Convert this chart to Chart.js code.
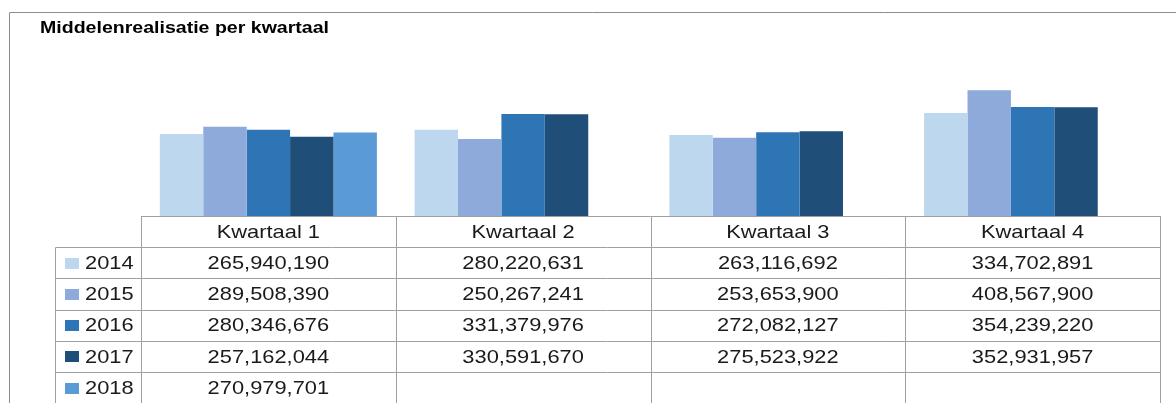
<!DOCTYPE html>
<html>
<head>
<meta charset="utf-8">
<script src="https://cdn.jsdelivr.net/npm/chart.js@4/dist/chart.umd.min.js"></script>
<style>
html,body{margin:0;padding:0;background:#fff;}
#wrap{width:1176px;height:403px;position:relative;}
</style>
</head>
<body>
<div id="wrap"><canvas id="c" width="1176" height="403"></canvas></div>
<script>
const titleText = 'Middelenrealisatie per kwartaal';
const categories = ['Kwartaal 1', 'Kwartaal 2', 'Kwartaal 3', 'Kwartaal 4'];
const years = ['2014', '2015', '2016', '2017', '2018'];
const values2014 = [265940190, 280220631, 263116692, 334702891];
const values2015 = [289508390, 250267241, 253653900, 408567900];
const values2016 = [280346676, 331379976, 272082127, 354239220];
const values2017 = [257162044, 330591670, 275523922, 352931957];
const values2018 = [270979701, null, null, null];
const colors = ['#BDD7EE', '#8EAADB', '#2E75B6', '#1F4E79', '#5B9BD5'];
const seriesValues = [values2014, values2015, values2016, values2017, values2018];

const SX = 1.15; // horizontal text stretch seen in reference
const FONT = '"Liberation Sans", Arial, sans-serif';

function drawText(ctx, text, x, y, align) {
  ctx.save();
  ctx.translate(x, y);
  ctx.scale(SX, 1);
  ctx.textAlign = align;
  ctx.fillText(text, 0, 0);
  ctx.restore();
}

const tablePlugin = {
  id: 'tablePlugin',
  afterDraw(chart) {
    const ctx = chart.ctx;
    const area = chart.chartArea;
    const xs = chart.scales.x;
    const n = categories.length;
    const colW = (area.right - area.left) / n;
    const rowH = 31.2;
    const top = area.bottom;
    const legendLeft = 55.5;
    ctx.save();
    // outer frame
    ctx.strokeStyle = '#8c8c8c';
    ctx.lineWidth = 1;
    ctx.beginPath();
    ctx.moveTo(9.5, 403);
    ctx.lineTo(9.5, 12.5);
    ctx.lineTo(1176, 12.5);
    ctx.stroke();
    // title
    ctx.fillStyle = '#000';
    ctx.font = 'bold 17px ' + FONT;
    ctx.textBaseline = 'alphabetic';
    drawText(ctx, titleText, 40, 33, 'left');

    // grid
    ctx.strokeStyle = '#a0a0a0';
    ctx.beginPath();
    const nRows = years.length + 1;
    const bottom = top + rowH * nRows;
    // horizontal lines
    for (let r = 0; r <= nRows; r++) {
      const y = Math.round(top + r * rowH) + 0.5;
      const x0 = r === 0 ? area.left : legendLeft;
      ctx.moveTo(x0, y);
      ctx.lineTo(area.right, y);
    }
    // vertical lines
    ctx.moveTo(legendLeft, Math.round(top + rowH) + 0.5);
    ctx.lineTo(legendLeft, bottom);
    for (let c = 0; c <= n; c++) {
      const x = Math.round(area.left + c * colW) + 0.5;
      ctx.moveTo(x, top);
      ctx.lineTo(x, bottom);
    }
    ctx.stroke();

    // texts
    ctx.fillStyle = '#1a1a1a';
    ctx.font = '19px ' + FONT;
    ctx.textBaseline = 'middle';
    categories.forEach((cat, i) => {
      drawText(ctx, cat, xs.getPixelForValue(i), top + rowH / 2 + 1, 'center');
    });
    years.forEach((yr, r) => {
      const yc = top + rowH * (r + 1) + rowH / 2 + 1;
      ctx.fillStyle = colors[r];
      ctx.fillRect(65, Math.round(yc - 6), 14, 11);
      ctx.fillStyle = '#1a1a1a';
      drawText(ctx, yr, 85, yc, 'left');
      seriesValues[r].forEach((v, i) => {
        if (v === null) return;
        drawText(ctx, v.toLocaleString('en-US'), xs.getPixelForValue(i), yc, 'center');
      });
    });
    ctx.restore();
  }
};

new Chart(document.getElementById('c'), {
  type: 'bar',
  data: {
    labels: categories,
    datasets: years.map((yr, i) => ({
      label: yr,
      data: seriesValues[i],
      backgroundColor: colors[i],
      borderWidth: 0,
      categoryPercentage: 0.852,
      barPercentage: 1.0
    }))
  },
  options: {
    responsive: false,
    animation: false,
    layout: { padding: { left: 141, right: 16, top: 62, bottom: 187 } },
    plugins: { legend: { display: false }, title: { display: false }, tooltip: { enabled: false } },
    scales: {
      x: { display: false, grid: { display: false } },
      y: { display: false, min: 0, max: 500000000, grid: { display: false } }
    }
  },
  plugins: [tablePlugin]
});
</script>
</body>
</html>
